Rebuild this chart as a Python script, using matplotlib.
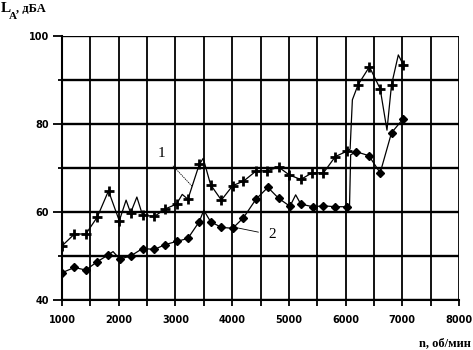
import matplotlib
matplotlib.use("Agg")
import matplotlib.pyplot as plt
import numpy as np

# curve 1 (crosses)
n1 = [1000, 1220, 1420, 1620, 1820, 2010, 2130, 2210, 2320, 2420, 2630, 2820, 3020,
      3120, 3220, 3420, 3490, 3620, 3810, 4010, 4200, 4420, 4620, 4820, 5010, 5210,
      5410, 5610, 5820, 6020, 6080, 6120, 6220, 6420, 6610, 6730, 6810, 6930, 7020]
L1 = [52.3, 55.0, 55.0, 58.8, 64.8, 58.0, 62.7, 59.8, 63.4, 59.3, 59.0, 60.7, 61.8,
      64.0, 62.9, 70.8, 72.2, 66.2, 62.7, 66.0, 67.0, 69.3, 69.4, 70.2, 68.4, 67.4,
      68.9, 68.9, 72.6, 73.8, 74.3, 85.5, 88.9, 93.0, 88.0, 78.6, 88.9, 95.7, 93.4]
unmarked1 = [2130, 2320, 3120, 3490, 6080, 6120, 6730, 6930]

# curve 2 (diamonds)
n2 = [1000, 1220, 1420, 1620, 1810, 1900, 2020, 2210, 2420, 2630, 2820, 3020, 3220,
      3420, 3500, 3620, 3810, 4010, 4200, 4420, 4630, 4820, 5020, 5120, 5210, 5420,
      5610, 5820, 6020, 6070, 6090, 6190, 6410, 6610, 6810, 7010]
L2 = [46.2, 47.4, 46.8, 48.7, 50.2, 51.0, 49.3, 50.0, 51.7, 51.5, 52.6, 53.3, 54.0,
      57.8, 60.4, 57.8, 56.5, 56.3, 58.7, 62.9, 65.6, 63.1, 61.3, 63.9, 61.8, 61.2,
      61.4, 61.2, 61.2, 61.5, 73.0, 73.7, 72.8, 68.9, 78.0, 81.1]
unmarked2 = [1900, 3500, 5120, 6070, 6090]

x_ticks = [1000, 2000, 3000, 4000, 5000, 6000, 7000, 8000]
y_ticks = [40, 60, 80, 100]

fig = plt.figure(figsize=(4.73, 3.5), dpi=100)
ax = fig.add_axes([62/473, 50/350, 397/473, 264/350])

mk1 = [i for i, v in enumerate(n1) if v not in unmarked1]
mk2 = [i for i, v in enumerate(n2) if v not in unmarked2]

ax.plot(n1, L1, color='black', lw=0.9, marker='+', ms=7, mew=2.0, markevery=mk1, zorder=3)
ax.plot(n2, L2, color='black', lw=0.9, marker='D', ms=4.3, markevery=mk2, zorder=3)

ax.set_xlim(1000, 8000)
ax.set_ylim(40, 100)
ax.set_xticks(x_ticks)
ax.set_xticks(np.arange(1500, 8000, 1000), minor=True)
ax.set_yticks(y_ticks)
ax.set_yticks([50, 70, 90], minor=True)
ax.set_xticklabels([str(t) for t in x_ticks], fontsize=7, fontweight='bold', family='DejaVu Sans')
ax.set_yticklabels([str(t) for t in y_ticks], fontsize=7, fontweight='bold', family='DejaVu Sans')

ax.grid(True, which='both', axis='x', color='black', lw=1.3)
ax.grid(True, which='both', axis='y', color='black', lw=1.7)
ax.tick_params(axis='y', which='major', length=6.5, width=1.3, pad=3)
ax.tick_params(axis='y', which='minor', length=3, width=1.3)
ax.tick_params(axis='x', which='both', length=4, width=1.3, pad=7)
for s in ['top', 'right']:
    ax.spines[s].set_visible(False)
for s in ['left', 'bottom']:
    ax.spines[s].set_linewidth(1.5)

# curve labels
ax.annotate('1', xy=(3290, 65.9), xytext=(2760, 73.2), fontsize=11, family='Liberation Serif',
            ha='center', va='center',
            arrowprops=dict(arrowstyle='-', color='black', lw=0.6, linestyle=':', shrinkA=5, shrinkB=0))
ax.annotate('2', xy=(4090, 56.4), xytext=(4700, 54.8), fontsize=11, family='Liberation Serif',
            ha='center', va='center',
            arrowprops=dict(arrowstyle='-', color='black', lw=0.6, shrinkA=5, shrinkB=0))

# axis titles
fig.text(1/473, 1 - 12/350, 'L', fontsize=11, fontweight='bold', family='Liberation Serif', va='baseline')
fig.text(9/473, 1 - 19/350, 'A', fontsize=8, fontweight='bold', family='Liberation Serif', va='baseline')
fig.text(16/473, 1 - 12/350, ', дБА', fontsize=9, fontweight='bold', family='Liberation Serif', va='baseline')
fig.text(471/473, 1 - 346/350, 'n, об/мин', fontsize=9, fontweight='bold', family='Liberation Serif',
         ha='right', va='baseline')

fig.savefig('out.png', dpi=100)
